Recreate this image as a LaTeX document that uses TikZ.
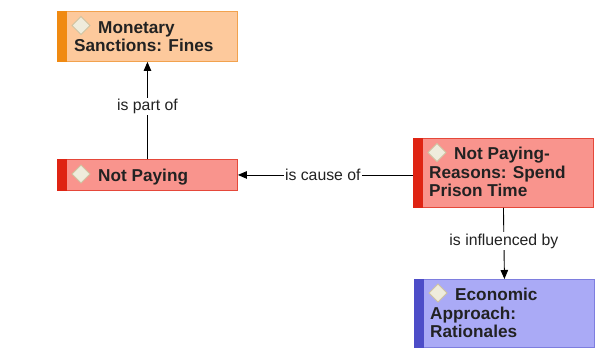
\documentclass[tikz,border=0pt]{standalone}
\usepackage{fontspec}
\setmainfont{Liberation Sans}
\usetikzlibrary{arrows.meta,shapes.geometric}
\definecolor{orfill}{HTML}{FDC99C}
\definecolor{orbd}{HTML}{F2A24E}
\definecolor{orbar}{HTML}{F08A12}
\definecolor{rdfill}{HTML}{F9948D}
\definecolor{rdbd}{HTML}{E5483A}
\definecolor{rdbar}{HTML}{DF2413}
\definecolor{blfill}{HTML}{AAAAF6}
\definecolor{blbd}{HTML}{7E7EDF}
\definecolor{blbar}{HTML}{4D4DC8}
\definecolor{diafill}{HTML}{EFECDC}
\definecolor{diabd}{HTML}{CFC3A0}
\definecolor{ink}{HTML}{222222}
\begin{document}
\begin{tikzpicture}[x=1pt,y=-1pt,
  box/.style={draw, line width=0.9pt, minimum width=180pt, inner sep=0pt, anchor=north west},
  txt/.style={font=\fontsize{17.2}{18.5}\selectfont\bfseries, text=ink, inner sep=0pt, anchor=base west},
  dia/.style={draw=diabd, fill=diafill, line width=1pt},
  lbl/.style={font=\fontsize{15.8}{18}\selectfont, text=ink, fill=white, inner sep=1.5pt},
  conn/.style={line width=0.9pt, draw=black, -{Triangle[length=9pt,width=7.5pt]}}
]
\useasboundingbox (0,0) rectangle (597,360);

% Node 1
\node[box, draw=orbd, fill=orfill, minimum height=50pt] (n1) at (57,11) {};
\fill[orbar] (n1.north west) rectangle ([xshift=9.5pt]n1.south west);
\coordinate (d1) at (81,25.5);
\draw[dia] ([xshift=-9pt]d1) -- ([yshift=9pt]d1) -- ([xshift=9pt]d1) -- ([yshift=-9pt]d1) -- cycle;
\node[txt] (t1a) at (98,33) {Monetary};
\node[txt] (t1b) at (74,51.5) {Sanctions: Fines};

% Node 2
\node[box, draw=rdbd, fill=rdfill, minimum height=31pt] (n2) at (57,159) {};
\fill[rdbar] (n2.north west) rectangle ([xshift=9.5pt]n2.south west);
\coordinate (d2) at (81,174);
\draw[dia] ([xshift=-9pt]d2) -- ([yshift=9pt]d2) -- ([xshift=9pt]d2) -- ([yshift=-9pt]d2) -- cycle;
\node[txt] (t2a) at (98,181) {Not Paying};

% Node 3
\node[box, draw=rdbd, fill=rdfill, minimum height=69pt] (n3) at (413,138) {};
\fill[rdbar] (n3.north west) rectangle ([xshift=9.5pt]n3.south west);
\coordinate (d3) at (437,152.5);
\draw[dia] ([xshift=-9pt]d3) -- ([yshift=9pt]d3) -- ([xshift=9pt]d3) -- ([yshift=-9pt]d3) -- cycle;
\node[txt] (t3a) at (454,159.5) {Not Paying-};
\node[txt] (t3b) at (429,178) {Reasons: Spend};
\node[txt] (t3c) at (429,196.5) {Prison Time};

% Node 4
\node[box, draw=blbd, fill=blfill, minimum height=68pt] (n4) at (414,279) {};
\fill[blbar] (n4.north west) rectangle ([xshift=9.5pt]n4.south west);
\coordinate (d4) at (438,293);
\draw[dia] ([xshift=-9pt]d4) -- ([yshift=9pt]d4) -- ([xshift=9pt]d4) -- ([yshift=-9pt]d4) -- cycle;
\node[txt] (t4a) at (455,300.5) {Economic};
\node[txt] (t4b) at (430,319) {Approach:};
\node[txt] (t4c) at (430,337.5) {Rationales};

% Connectors
\draw[conn] (n2.north) -- node[lbl, pos=0.54] (l1) {is part of} (n1.south);
\draw[conn] (n2.east -| n3.west) -- node[lbl, pos=0.515] (l2) {is cause of} (n2.east);
\draw[conn] (n3.south) -- node[lbl, pos=0.47] (l3) {is influenced by} (n4.north);
\end{tikzpicture}
\end{document}
